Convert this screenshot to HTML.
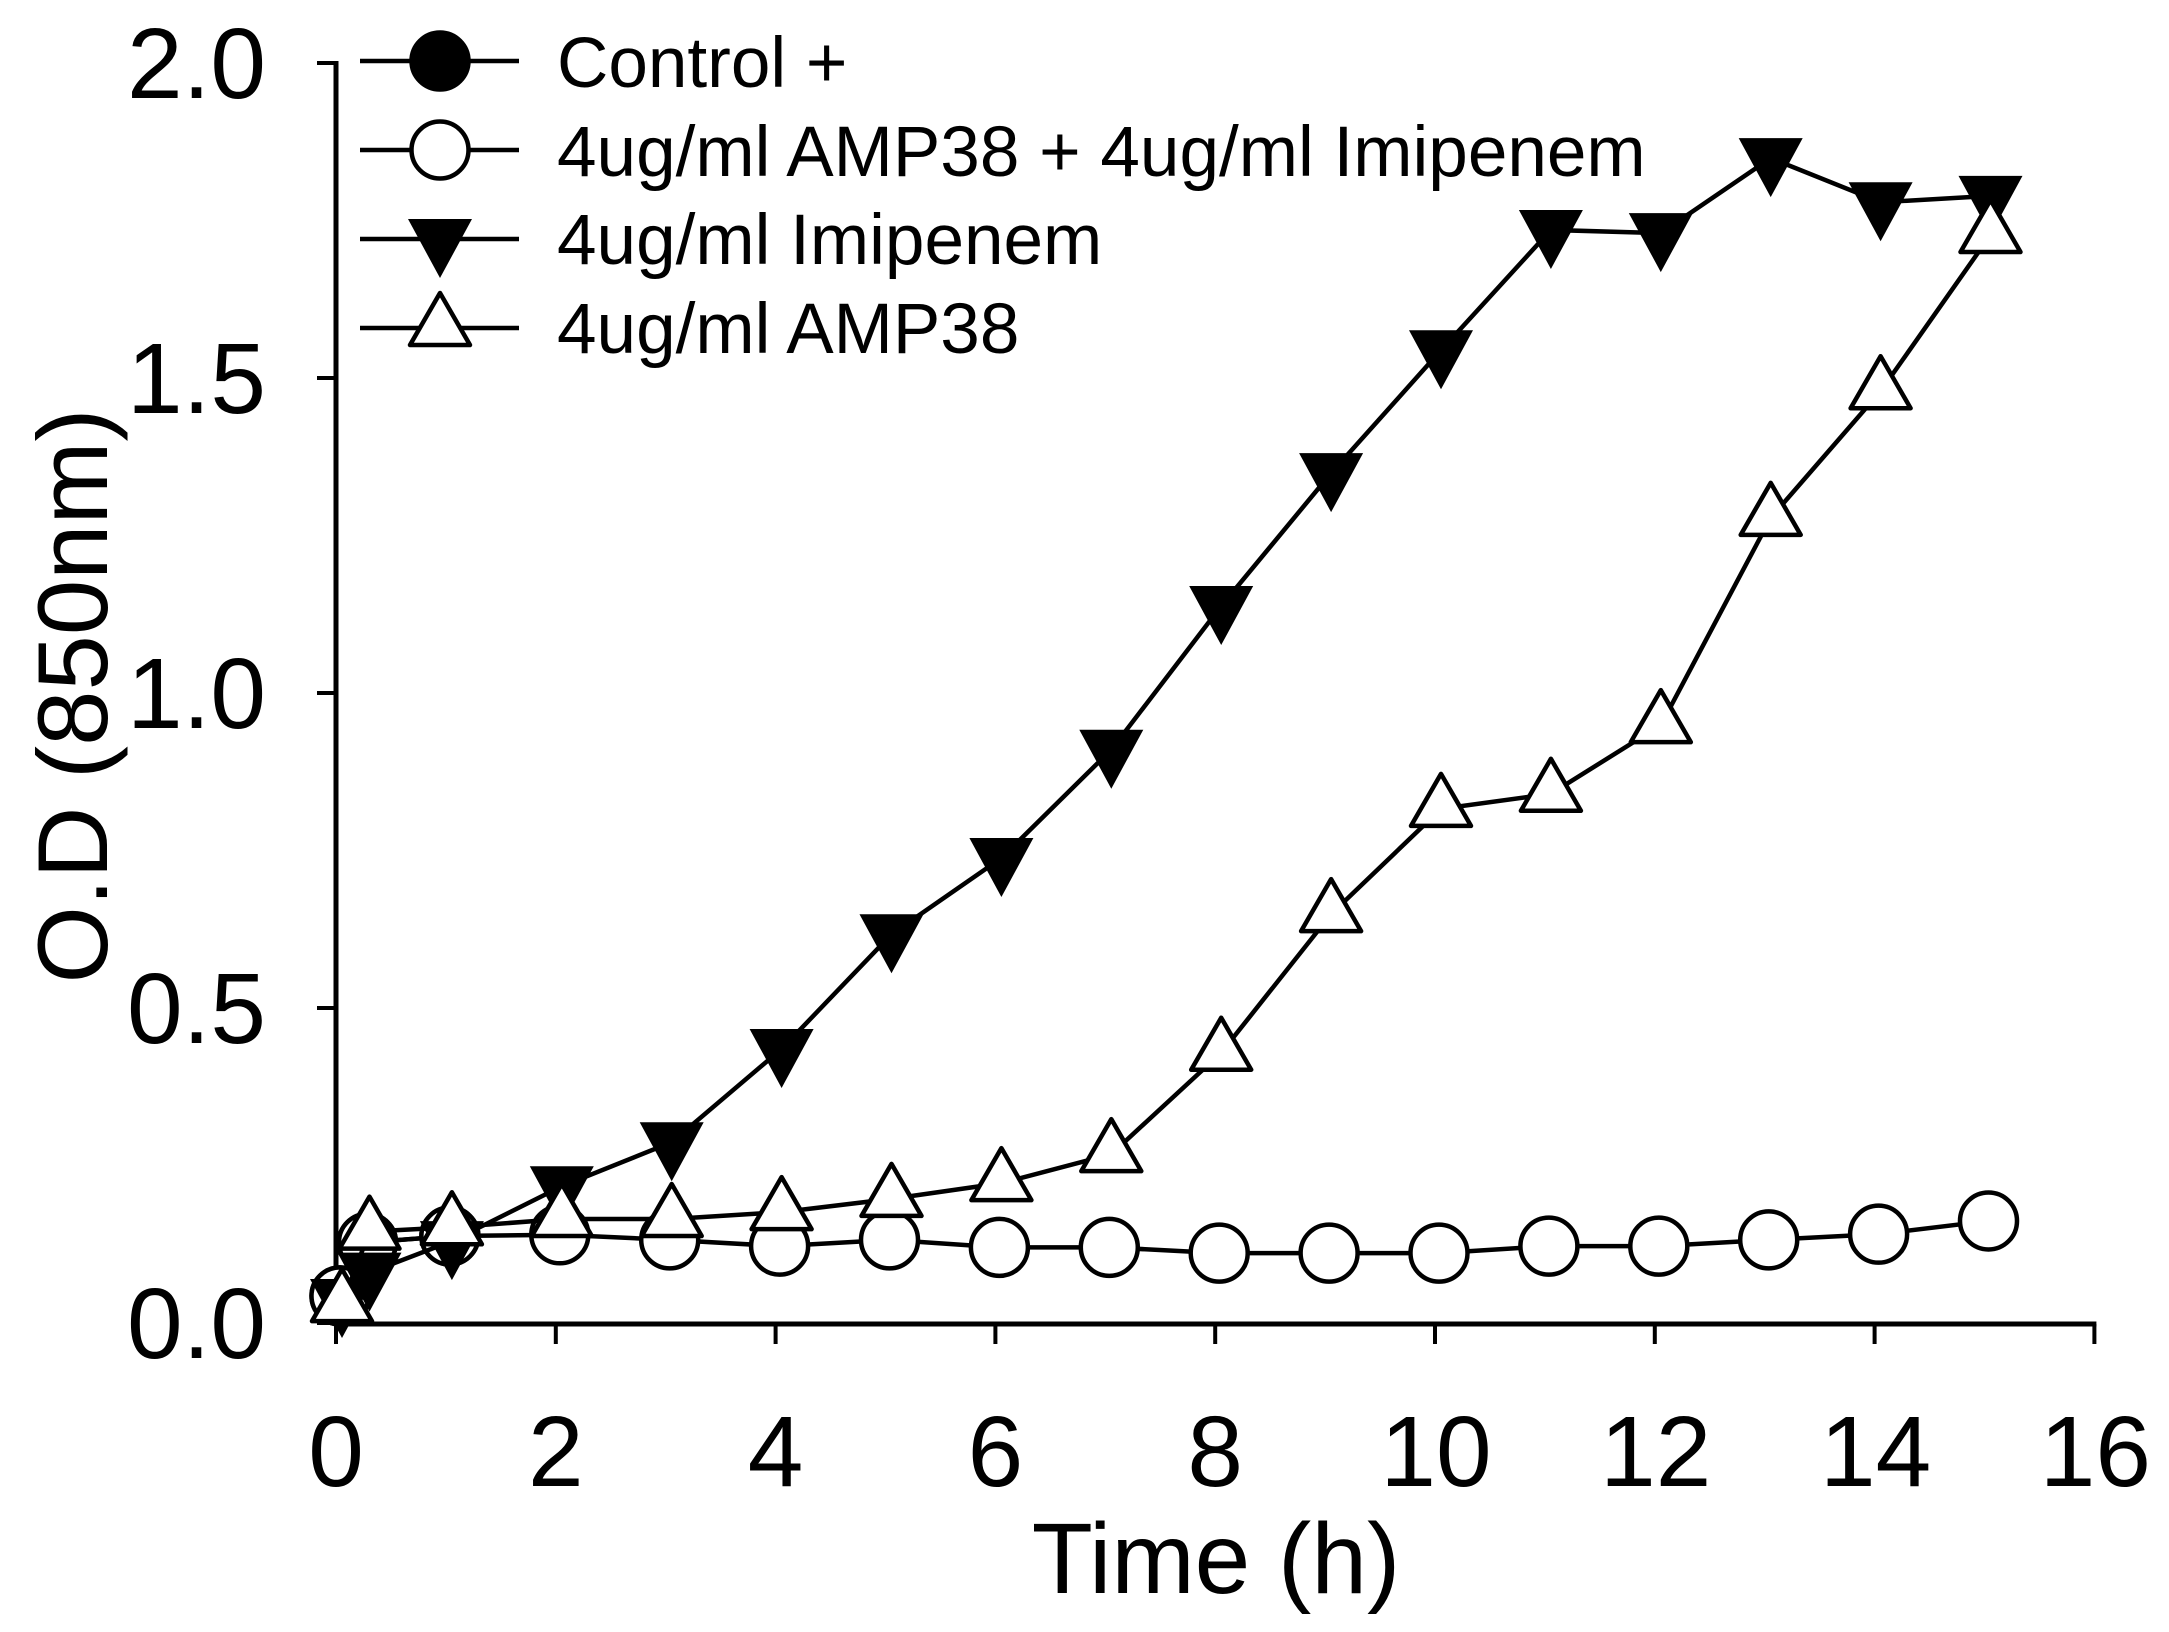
<!DOCTYPE html>
<html lang="en">
<head>
<meta charset="utf-8">
<title>O.D over time</title>
<style>
html,body{margin:0;padding:0;background:#fff;}
svg{display:block;}
text{font-family:"Liberation Sans",Arial,sans-serif;fill:#000;}
</style>
</head>
<body>
<svg id="chart" xmlns="http://www.w3.org/2000/svg" width="2169" height="1632" viewBox="0 0 2169 1632">
  <rect x="0" y="0" width="2169" height="1632" fill="#fff"/>
  <g id="axes"></g>
  <g id="series"></g>
  <text x="1216" y="1593" font-size="100" text-anchor="middle">Time (h)</text>
  <text transform="translate(107 696) rotate(-90)" font-size="99.5" text-anchor="middle">O.D (850nm)</text>
  <g id="legend">
    <text x="557" y="87" font-size="71.1">Control +</text>
    <text x="557" y="176" font-size="71.1">4ug/ml AMP38 + 4ug/ml Imipenem</text>
    <text x="557" y="264" font-size="71.1">4ug/ml Imipenem</text>
    <text x="557" y="353" font-size="71.1">4ug/ml AMP38</text>
  </g>
</svg>
<script>
// Chart data
var xTicks = [0, 2, 4, 6, 8, 10, 12, 14, 16];
var yTicks = [0.0, 0.5, 1.0, 1.5, 2.0];
var yTickLabels = ['0.0', '0.5', '1.0', '1.5', '2.0'];
var timesControl = [0, 0.25, 1];
var valuesControl = [0.043, 0.128, 0.138];
var timesAll = [0, 0.25, 1, 2, 3, 4, 5, 6, 7, 8, 9, 10, 11, 12, 13, 14, 15];
var valuesCombination = [0.043, 0.128, 0.138, 0.14, 0.132, 0.122, 0.132, 0.12, 0.12, 0.111, 0.111, 0.111, 0.122, 0.122, 0.132, 0.141, 0.162];
var valuesImipenem = [0.038, 0.08, 0.13, 0.217, 0.287, 0.435, 0.617, 0.738, 0.91, 1.138, 1.349, 1.544, 1.735, 1.73, 1.849, 1.779, 1.789];
var valuesAmp38 = [0.03, 0.145, 0.152, 0.165, 0.165, 0.176, 0.197, 0.222, 0.268, 0.429, 0.649, 0.816, 0.84, 0.949, 1.278, 1.479, 1.727];

var NS = 'http://www.w3.org/2000/svg';
function xAxis(t) { return 336 + t * 109.9; }
function xMark(t) { return xAxis(t) + 4; }
function yAxis(v) { return 1323 - v * 630; }
function make(tag, parent) {
  var el = document.createElementNS(NS, tag);
  parent.appendChild(el);
  return el;
}
function drawLine(parent, x1, y1, x2, y2, w) {
  var l = make('line', parent);
  l.setAttribute('x1', x1);
  l.setAttribute('y1', y1);
  l.setAttribute('x2', x2);
  l.setAttribute('y2', y2);
  l.setAttribute('stroke', '#000');
  l.setAttribute('stroke-width', w);
  return l;
}
function drawMarker(parent, kind, cx, cy) {
  var m;
  if (kind === 'filled-circle' || kind === 'open-circle') {
    m = make('circle', parent);
    m.setAttribute('cx', cx);
    m.setAttribute('cy', cy);
    m.setAttribute('r', 28.5);
    m.setAttribute('fill', kind === 'filled-circle' ? '#000' : '#fff');
    m.setAttribute('stroke', '#000');
    m.setAttribute('stroke-width', 4.5);
  } else if (kind === 'down-triangle') {
    m = make('polygon', parent);
    m.setAttribute('points', (cx - 32) + ',' + (cy - 20) + ' ' + (cx + 32) + ',' + (cy - 20) + ' ' + cx + ',' + (cy + 39));
    m.setAttribute('fill', '#000');
  } else {
    m = make('polygon', parent);
    m.setAttribute('points', cx + ',' + (cy - 35) + ' ' + (cx + 30) + ',' + (cy + 17) + ' ' + (cx - 30) + ',' + (cy + 17));
    m.setAttribute('fill', '#fff');
    m.setAttribute('stroke', '#000');
    m.setAttribute('stroke-width', 4.5);
    m.setAttribute('stroke-linejoin', 'round');
  }
  return m;
}

var axes = document.getElementById('axes');
var yAxisLine = drawLine(axes, xAxis(0), yAxis(2) - 2, xAxis(0), yAxis(0) + 3, 5);


var xAxisLine = drawLine(axes, xAxis(0), yAxis(0) + 1, xAxis(16) + 2, yAxis(0) + 1, 5);



xTicks.forEach(function (t) {
  var tick = drawLine(axes, xAxis(t), yAxis(0) + 1, xAxis(t), yAxis(0) + 21, 4);
  
  
  var label = make('text', axes);
  
  
  label.setAttribute('x', xAxis(t) + (t >= 10 ? 1 : 0));
  label.setAttribute('y', 1486);
  label.setAttribute('font-size', 100);
  label.setAttribute('text-anchor', 'middle');
  label.textContent = String(t);
});
yTicks.forEach(function (v, i) {
  var tick = drawLine(axes, xAxis(0) - 19, yAxis(v), xAxis(0), yAxis(v), 4);
  
  
  var label = make('text', axes);
  
  
  label.setAttribute('x', 266);
  label.setAttribute('y', yAxis(v) + 35);
  label.setAttribute('font-size', 100);
  label.setAttribute('text-anchor', 'end');
  label.textContent = yTickLabels[i];
});

function drawSeries(name, times, values, kind, nudge) {
  var layer = document.getElementById('series');
  var group = make('g', layer);
  
  
  var path = make('polyline', group);
  
  
  path.setAttribute('fill', 'none');
  path.setAttribute('stroke', '#000');
  path.setAttribute('stroke-width', 4.5);
  path.setAttribute('points', times.map(function (t, i) {
    return (xMark(t) + nudge) + ',' + yAxis(values[i]);
  }).join(' '));
  times.forEach(function (t, i) {
    var marker = drawMarker(group, kind, xMark(t) + nudge, yAxis(values[i]));
    
    
  });
}
drawSeries('series-control', timesControl, valuesControl, 'filled-circle', 0);
drawSeries('series-amp38-imipenem', timesAll, valuesCombination, 'open-circle', 0);
drawSeries('series-imipenem', timesAll, valuesImipenem, 'down-triangle', 2);
drawSeries('series-amp38', timesAll, valuesAmp38, 'up-triangle', 2);

var legendKinds = ['filled-circle', 'open-circle', 'down-triangle', 'up-triangle'];
var legendRows = [61, 150, 239, 328];
var legend = document.getElementById('legend');
legendKinds.forEach(function (kind, i) {
  var keyLine = drawLine(legend, 360, legendRows[i], 519, legendRows[i], 4.5);
  
  
  var keyMarker = drawMarker(legend, kind, 440, legendRows[i]);
  
  
});
</script>
</body>
</html>
